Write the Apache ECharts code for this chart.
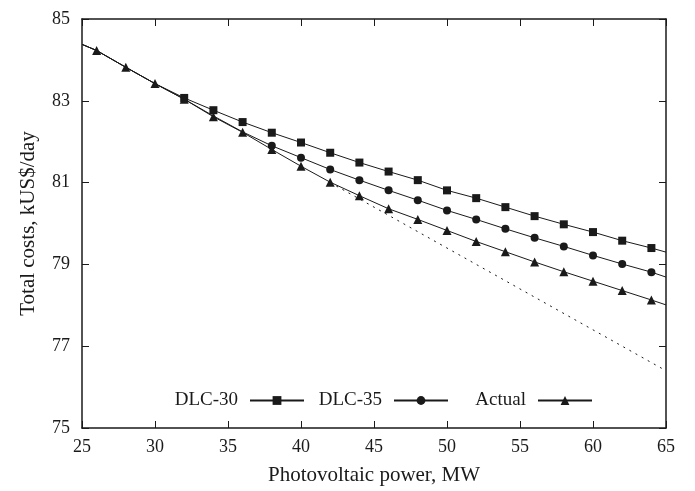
<!DOCTYPE html>
<html>
<head>
<meta charset="utf-8">
<script src="https://cdn.jsdelivr.net/npm/echarts@6/dist/echarts.min.js"></script>
<style>
  html, body { margin: 0; padding: 0; background: #fff; }
  #main { width: 695px; height: 491px; }
</style>
</head>
<body>
<div id="main"></div>
<script>
// photovoltaic power, MW (25 and 65 are the line ends, no marker)
var power = [25, 26, 28, 30, 32, 34, 36, 38, 40, 42, 44, 46, 48, 50, 52, 54, 56, 58, 60, 62, 64, 65];
var dlc30 = [84.38, 84.23, 83.82, 83.42, 83.07, 82.77, 82.48, 82.22, 81.98, 81.73, 81.49, 81.27, 81.06, 80.81, 80.62, 80.40, 80.18, 79.98, 79.79, 79.58, 79.40, 79.30];
var dlc35 = [84.38, 84.23, 83.82, 83.42, 83.04, 82.63, 82.24, 81.90, 81.61, 81.32, 81.06, 80.81, 80.57, 80.32, 80.10, 79.87, 79.65, 79.44, 79.22, 79.01, 78.81, 78.69];
var actual = [84.38, 84.23, 83.82, 83.42, 83.04, 82.61, 82.23, 81.81, 81.40, 81.01, 80.68, 80.36, 80.10, 79.83, 79.56, 79.31, 79.06, 78.82, 78.59, 78.36, 78.13, 78.01];
// dotted trend line
var trendX = [42, 65];
var trendY = [81.0, 76.4];

var xTicks = [25, 30, 35, 40, 45, 50, 55, 60, 65];
var yTicks = [75, 77, 79, 81, 83, 85];

var INK = '#1a1a1a';
var FONT = 'Liberation Serif';

function build(values, firstMarker) {
  var out = [];
  for (var i = 0; i < power.length; i++) {
    var item = { value: [power[i], values[i]] };
    if (i < firstMarker || i === 0 || i === power.length - 1) {
      item.symbol = 'none';
    }
    out.push(item);
  }
  return out;
}

var trend = [];
for (var k = 0; k < trendX.length; k++) trend.push([trendX[k], trendY[k]]);

var chart = echarts.init(document.getElementById('main'));

var axisLine = { show: true, onZero: false, lineStyle: { color: INK, width: 1.5 } };
var tick = { show: true, inside: true, length: 7, lineStyle: { color: INK, width: 1 } };

function legendAt(name, right) {
  return {
    data: [name],
    right: right,
    top: 391,
    padding: 0,
    align: 'right',
    itemWidth: 54,
    itemHeight: 11,
    textStyle: { fontFamily: FONT, fontSize: 19, color: INK, padding: [0, 7, 0, 0] }
  };
}

var option = {
  animation: false,
  backgroundColor: '#fff',
  grid: { left: 82, right: 29, top: 19, bottom: 59 },
  legend: [
    legendAt('DLC-30', 390),
    legendAt('DLC-35', 246),
    legendAt('Actual', 102)
  ],
  xAxis: [{
    type: 'value',
    min: xTicks[0],
    max: xTicks[xTicks.length - 1],
    interval: 5,
    name: 'Photovoltaic power, MW',
    nameLocation: 'middle',
    nameGap: 37,
    nameTextStyle: { fontFamily: FONT, fontSize: 21, color: INK },
    axisLine: axisLine,
    axisTick: tick,
    splitLine: { show: false },
    axisLabel: { fontFamily: FONT, fontSize: 18, color: INK, margin: 10 }
  }, {
    type: 'value',
    position: 'top',
    min: xTicks[0],
    max: xTicks[xTicks.length - 1],
    interval: 5,
    axisLine: axisLine,
    axisTick: tick,
    splitLine: { show: false },
    axisLabel: { show: false }
  }],
  yAxis: [{
    type: 'value',
    min: yTicks[0],
    max: yTicks[yTicks.length - 1],
    interval: 2,
    name: 'Total costs, kUS$/day',
    nameLocation: 'middle',
    nameGap: 43,
    nameTextStyle: { fontFamily: FONT, fontSize: 21, color: INK },
    axisLine: axisLine,
    axisTick: tick,
    splitLine: { show: false },
    axisLabel: { fontFamily: FONT, fontSize: 18, color: INK, margin: 12 }
  }, {
    type: 'value',
    position: 'right',
    min: yTicks[0],
    max: yTicks[yTicks.length - 1],
    interval: 2,
    axisLine: axisLine,
    axisTick: tick,
    splitLine: { show: false },
    axisLabel: { show: false }
  }],
  series: [{
    name: 'trend',
    type: 'line',
    data: trend,
    symbol: 'none',
    lineStyle: { color: INK, width: 1, type: [2, 5] },
    z: 1
  }, {
    name: 'DLC-30',
    type: 'line',
    data: build(dlc30, 4),
    symbol: 'rect',
    symbolSize: 8,
    itemStyle: { color: INK },
    lineStyle: { color: INK, width: 1 },
    z: 2
  }, {
    name: 'DLC-35',
    type: 'line',
    data: build(dlc35, 7),
    symbol: 'circle',
    symbolSize: 8,
    itemStyle: { color: INK },
    lineStyle: { color: INK, width: 1 },
    z: 3
  }, {
    name: 'Actual',
    type: 'line',
    data: build(actual, 1),
    symbol: 'triangle',
    symbolSize: 9,
    itemStyle: { color: INK },
    lineStyle: { color: INK, width: 1 },
    z: 4
  }]
};

chart.setOption(option);
</script>
</body>
</html>
